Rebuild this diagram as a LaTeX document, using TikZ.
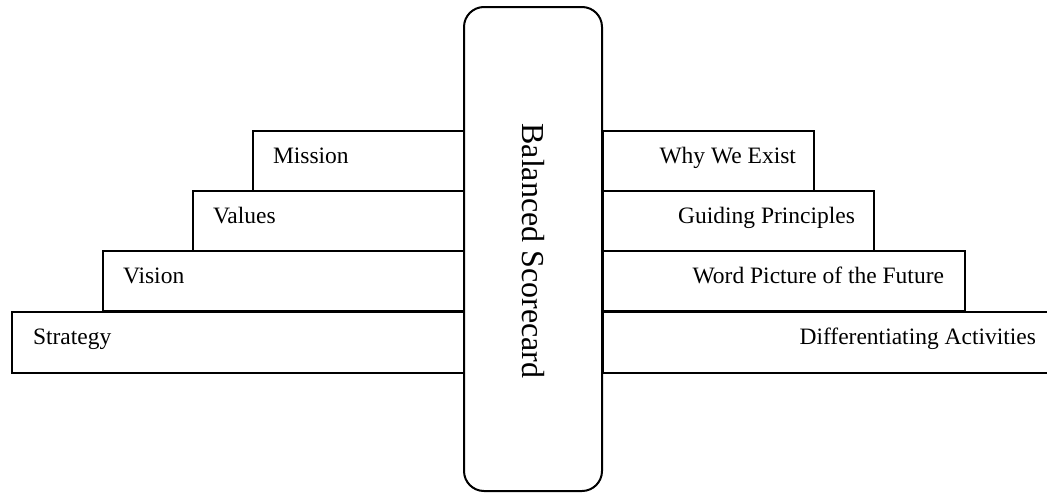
\documentclass[tikz,border=0pt]{standalone}
\usepackage{fontspec}
\setmainfont{Liberation Serif}
\begin{document}
\begin{tikzpicture}[x=1pt, y=-1pt, line width=2pt,
  stepbox/.style={draw, rectangle, anchor=north west, inner sep=0pt, minimum height=60pt},
  steplabel/.style={font=\fontsize{23.5}{28}\selectfont, inner sep=0pt},
  core/.style={draw, fill=white, rectangle, rounded corners=20pt, inner sep=0pt,
    minimum width=138pt, minimum height=484pt},
  corelabel/.style={font=\fontsize{32}{38}\selectfont, rotate=-90, inner sep=0pt}]
\useasboundingbox (0,0) rectangle (1047,493);

% left-hand steps
\node[stepbox, minimum width=212pt] (mission)  at (252,130) {};
\node[stepbox, minimum width=272pt] (values)   at (192,190) {};
\node[stepbox, minimum width=362pt] (vision)   at (102,250) {};
\node[stepbox, minimum width=453pt, minimum height=61pt] (strategy) at (11,311) {};

% right-hand steps
\node[stepbox, minimum width=211pt] (why)      at (602,130) {};
\node[stepbox, minimum width=271pt] (guiding)  at (602,190) {};
\node[stepbox, minimum width=362pt] (picture)  at (602,250) {};
\node[stepbox, minimum width=454pt, minimum height=61pt] (activities) at (602,311) {};

% labels of the steps
\node[steplabel, anchor=mid west] (missiontext)  at ([xshift=20pt]mission.west)  {Mission};
\node[steplabel, anchor=mid west] (valuestext)   at ([xshift=20pt]values.west)   {Values};
\node[steplabel, anchor=mid west] (visiontext)   at ([xshift=20pt]vision.west)   {Vision};
\node[steplabel, anchor=mid west] (strategytext) at ([xshift=21pt]strategy.west) {Strategy};

\node[steplabel, anchor=mid east] (whytext)        at ([xshift=-18pt]why.east)        {Why We Exist};
\node[steplabel, anchor=mid east] (guidingtext)    at ([xshift=-19pt]guiding.east)    {Guiding Principles};
\node[steplabel, anchor=mid east] (picturetext)    at ([xshift=-21pt]picture.east)    {Word Picture of the Future};
\node[steplabel, anchor=mid east] (activitiestext) at ([xshift=-21pt]activities.east) {Differentiating Activities};

% central pillar
\node[core] (scorecard) at (533,249) {};
\node[corelabel] (scorecardtext) at (533,251) {Balanced Scorecard};
\end{tikzpicture}
\end{document}
